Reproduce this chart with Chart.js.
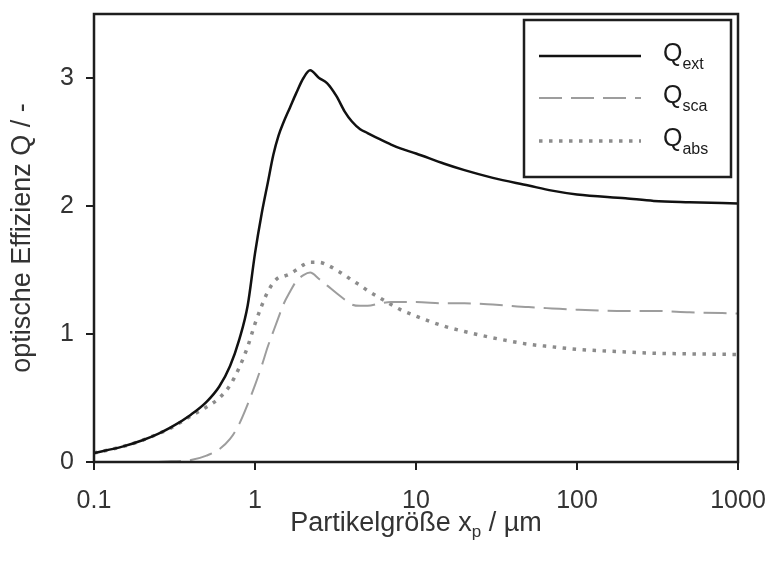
<!DOCTYPE html>
<html><head><meta charset="utf-8">
<script src="https://cdn.jsdelivr.net/npm/chart.js@4/dist/chart.umd.min.js"></script>
<style>html,body{margin:0;padding:0;background:#fff;overflow:hidden}#wrap{width:769px;height:569px}</style>
</head><body><div id="wrap"><canvas id="c" width="769" height="569"></canvas></div>
<script>
// ---- data ----
const particleSize = [0.1,0.15,0.2,0.25,0.3,0.4,0.5,0.6,0.7,0.8,0.9,1.0,1.1,1.2,1.3,1.4,1.5,1.65,1.8,2.0,2.2,2.5,2.8,3.2,3.6,4.0,4.5,5,6,7,8,10,15,20,30,50,70,100,200,300,500,1000];
const qExt = [0.07,0.12,0.17,0.22,0.27,0.37,0.47,0.59,0.75,0.96,1.22,1.63,1.94,2.18,2.40,2.55,2.65,2.77,2.88,3.00,3.06,3.00,2.96,2.86,2.74,2.66,2.60,2.57,2.52,2.48,2.45,2.41,2.33,2.28,2.22,2.16,2.12,2.09,2.06,2.04,2.03,2.02];
const qSca = [0.0,0.0,0.0,0.0,0.005,0.015,0.05,0.10,0.18,0.30,0.45,0.60,0.75,0.90,1.02,1.13,1.23,1.33,1.41,1.46,1.48,1.43,1.38,1.32,1.27,1.23,1.22,1.22,1.24,1.25,1.25,1.25,1.24,1.24,1.23,1.21,1.20,1.19,1.18,1.18,1.17,1.16];
const qAbs = [0.07,0.12,0.17,0.22,0.265,0.36,0.43,0.50,0.60,0.74,0.90,1.08,1.22,1.33,1.40,1.44,1.45,1.47,1.50,1.54,1.56,1.56,1.54,1.50,1.46,1.42,1.38,1.34,1.28,1.23,1.19,1.14,1.06,1.02,0.97,0.92,0.90,0.88,0.86,0.85,0.845,0.84];
const seriesSubscripts = ['ext','sca','abs'];
const xTickValues = [0.1,1,10,100,1000];
const xTickLabels = ['0.1','1','10','100','1000'];
const yTickValues = [0,1,2,3];
const yTickLabels = ['0','1','2','3'];
const xTitleMain = 'Partikelgröße x';
const xTitleSub = 'p';
const xTitleRest = ' / µm';
const yTitle = 'optische Effizienz Q / -';

const FONT = "'Liberation Sans', Arial, sans-serif";
const pts = arr => particleSize.map((x,i)=>({x:x,y:arr[i]}));

const framePlugin = {
  id:'frame',
  afterDatasetsDraw(chart){
    const {ctx, chartArea:a} = chart;
    ctx.save();
    ctx.strokeStyle = '#1e1e1e'; ctx.lineWidth = 2.5;
    ctx.strokeRect(a.left, a.top, a.right-a.left, a.bottom-a.top);
    ctx.restore();
  }
};

const legendPlugin = {
  id:'customLegend',
  afterDraw(chart){
    const ctx = chart.ctx;
    ctx.save();
    const bx=524, by=20, bw=207, bh=157;
    ctx.fillStyle='#fff'; ctx.fillRect(bx,by,bw,bh);
    ctx.strokeStyle='#1e1e1e'; ctx.lineWidth=2.5; ctx.strokeRect(bx,by,bw,bh);
    const baselines=[61,103,146];
    chart.data.datasets.forEach((ds,i)=>{
      const yb = baselines[i];
      const yl = yb-5;
      ctx.beginPath();
      ctx.strokeStyle = ds.borderColor; ctx.lineWidth = ds.borderWidth;
      ctx.setLineDash(ds.borderDash||[]); ctx.lineCap = ds.borderCapStyle||'butt';
      ctx.moveTo(539,yl); ctx.lineTo(641,yl); ctx.stroke();
      ctx.setLineDash([]);
      ctx.fillStyle='#1a1a1a'; ctx.textBaseline='alphabetic'; ctx.textAlign='left';
      ctx.font = '25px '+FONT;
      ctx.fillText('Q',663,yb);
      const w = ctx.measureText('Q').width;
      ctx.font = '16px '+FONT;
      ctx.fillText(seriesSubscripts[i],663+w,yb+8);
    });
    ctx.restore();
  }
};

const xTitlePlugin = {
  id:'xTitle',
  afterDraw(chart){
    const ctx = chart.ctx, a = chart.chartArea;
    ctx.save();
    ctx.fillStyle='#333'; ctx.textBaseline='alphabetic'; ctx.textAlign='left';
    const big = '27px '+FONT, small='17px '+FONT;
    ctx.font=big; const w1=ctx.measureText(xTitleMain).width, w3=ctx.measureText(xTitleRest).width;
    ctx.font=small; const w2=ctx.measureText(xTitleSub).width;
    let x = (a.left+a.right)/2 - (w1+w2+w3)/2;
    const yb = 531;
    ctx.font=big; ctx.fillText(xTitleMain,x,yb); x+=w1;
    ctx.font=small; ctx.fillText(xTitleSub,x,yb+6); x+=w2;
    ctx.font=big; ctx.fillText(xTitleRest,x,yb);
    ctx.restore();
  }
};

new Chart(document.getElementById('c'),{
  type:'line',
  data:{datasets:[
    {label:'Q_ext', data:pts(qExt), borderColor:'#111', borderWidth:2.5, pointRadius:0, cubicInterpolationMode:'monotone', fill:false},
    {label:'Q_sca', data:pts(qSca), borderColor:'#9d9d9d', borderWidth:2, borderDash:[23,9], pointRadius:0, cubicInterpolationMode:'monotone', fill:false},
    {label:'Q_abs', data:pts(qAbs), borderColor:'#8c8c8c', borderWidth:3.5, borderDash:[3.5,6.5], pointRadius:0, cubicInterpolationMode:'monotone', fill:false}
  ]},
  options:{
    responsive:false, animation:false, devicePixelRatio:1,
    layout:{padding:{left:0,right:31,top:14,bottom:0}},
    plugins:{legend:{display:false}, tooltip:{enabled:false}},
    scales:{
      x:{type:'logarithmic', min:0.1, max:1000,
        afterBuildTicks(s){ s.ticks = xTickValues.map(v=>({value:v})); },
        afterFit(s){ s.height = 107; s.paddingLeft = 0; s.paddingRight = 0; },
        border:{display:false},
        grid:{drawOnChartArea:false, drawTicks:true, tickLength:8, color:'#1e1e1e', lineWidth:2},
        ticks:{padding:16, color:'#333', font:{family:FONT,size:25}, maxRotation:0, autoSkip:false,
          callback:(v)=>{const i=xTickValues.indexOf(v); return i>=0?xTickLabels[i]:'';}},
        title:{display:false}
      },
      y:{type:'linear', min:0, max:3.5,
        afterBuildTicks(s){ s.ticks = yTickValues.map(v=>({value:v})); },
        afterFit(s){ s.width = 94; s.paddingTop = 0; s.paddingBottom = 0; },
        border:{display:false},
        grid:{drawOnChartArea:false, drawTicks:true, tickLength:8, color:'#1e1e1e', lineWidth:2},
        ticks:{padding:12, color:'#333', font:{family:FONT,size:25},
          callback:(v)=>{const i=yTickValues.indexOf(v); return i>=0?yTickLabels[i]:'';}},
        title:{display:true, text:yTitle, color:'#333', font:{family:FONT,size:27}, padding:{top:6,bottom:0}}
      }
    }
  },
  plugins:[framePlugin, legendPlugin, xTitlePlugin]
});
</script></body></html>
